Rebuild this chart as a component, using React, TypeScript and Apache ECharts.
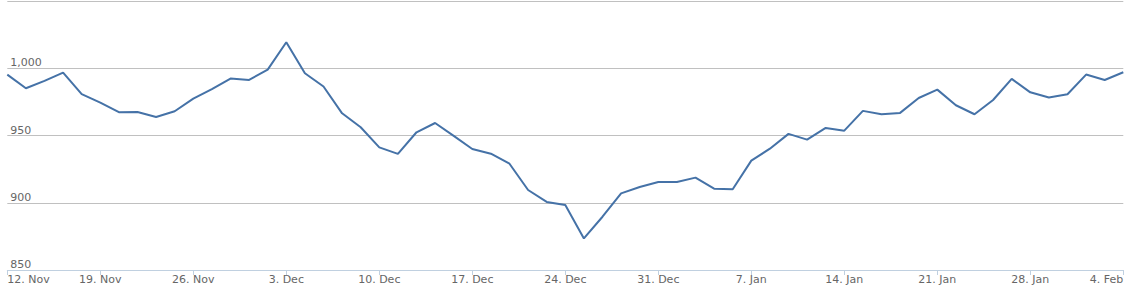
import React, { useEffect, useRef } from "react";
import * as echarts from "echarts";

const dates: string[] = [
  "2012-11-12", "2012-11-13", "2012-11-14", "2012-11-15", "2012-11-16",
  "2012-11-19", "2012-11-20", "2012-11-21", "2012-11-22", "2012-11-23",
  "2012-11-26", "2012-11-27", "2012-11-28", "2012-11-29", "2012-11-30",
  "2012-12-03", "2012-12-04", "2012-12-05", "2012-12-06", "2012-12-07",
  "2012-12-10", "2012-12-11", "2012-12-12", "2012-12-13", "2012-12-14",
  "2012-12-17", "2012-12-18", "2012-12-19", "2012-12-20", "2012-12-21",
  "2012-12-24", "2012-12-25", "2012-12-26", "2012-12-27", "2012-12-28",
  "2012-12-31", "2013-01-01", "2013-01-02", "2013-01-03", "2013-01-04",
  "2013-01-07", "2013-01-08", "2013-01-09", "2013-01-10", "2013-01-11",
  "2013-01-14", "2013-01-15", "2013-01-16", "2013-01-17", "2013-01-18",
  "2013-01-21", "2013-01-22", "2013-01-23", "2013-01-24", "2013-01-25",
  "2013-01-28", "2013-01-29", "2013-01-30", "2013-01-31", "2013-02-01",
  "2013-02-04",
];

const values: number[] = [
  995.3, 985.1, 990.6, 996.8, 980.7,
  974.5, 967.3, 967.5, 963.8, 968.0,
  977.4, 984.4, 992.3, 991.3, 999.0,
  1019.3, 996.3, 986.4, 966.5, 956.1,
  941.2, 936.3, 952.4, 959.3, 949.7,
  940.0, 936.5, 929.0, 909.5, 900.6,
  898.3, 873.5, 889.6, 907.0, 911.7,
  915.4, 915.4, 918.7, 910.5, 910.0,
  931.3, 940.2, 951.2, 946.9, 955.6,
  953.6, 968.3, 965.8, 966.8, 977.9,
  984.1, 972.5, 965.8, 976.4, 992.1,
  982.1, 978.2, 980.7, 995.3, 991.3,
  997.0,
];

const monthNames = ["Jan", "Feb", "Mar", "Apr", "May", "Jun", "Jul", "Aug", "Sep", "Oct", "Nov", "Dec"];
const yMin = 850;
const yMax = 1050;
const yStep = 50;

function fmtDate(s: string): string {
  const [, m, d] = s.split("-");
  return `${parseInt(d, 10)}. ${monthNames[parseInt(m, 10) - 1]}`;
}

function isMonday(s: string): boolean {
  const [y, m, d] = s.split("-").map((x) => parseInt(x, 10));
  return new Date(Date.UTC(y, m - 1, d)).getUTCDay() === 1;
}

export default function App() {
  const ref = useRef<HTMLDivElement>(null);
  useEffect(() => {
    if (!ref.current) return;
    const chart = echarts.init(ref.current, undefined, { renderer: "svg" });
    const font = "DejaVu Sans, Verdana, Arial, sans-serif";
    chart.setOption({
      animation: false,
      grid: { left: 7.3, right: 4.7, top: 1, bottom: 22, containLabel: false },
      xAxis: {
        type: "category",
        data: dates,
        boundaryGap: false,
        axisLine: { show: true, lineStyle: { color: "#C0D0E0", width: 1 } },
        axisTick: {
          show: true,
          length: 5,
          interval: (i: number, v: string) => isMonday(v),
          lineStyle: { color: "#C0D0E0" },
        },
        axisLabel: {
          interval: (i: number, v: string) => isMonday(v),
          formatter: (v: string) => fmtDate(v),
          color: "#666666",
          fontSize: 11,
          fontFamily: font,
          margin: 4,
          alignMinLabel: "left",
          alignMaxLabel: "right",
        },
        splitLine: { show: false },
      },
      yAxis: {
        type: "value",
        min: yMin,
        max: yMax,
        interval: yStep,
        axisLine: { show: false },
        axisTick: { show: false },
        axisLabel: {
          inside: true,
          margin: 3,
          verticalAlign: "bottom",
          showMaxLabel: false,
          color: "#666666",
          fontSize: 11,
          fontFamily: font,
          formatter: (v: number) => v.toLocaleString("en-US"),
        },
        splitLine: { show: true, lineStyle: { color: "#C0C0C0", width: 1 } },
      },
      series: [
        {
          type: "line",
          data: values,
          symbol: "none",
          lineStyle: { color: "#4572A7", width: 2 },
          itemStyle: { color: "#4572A7" },
        },
      ],
    });
    return () => chart.dispose();
  }, []);
  return (
    <div
      ref={ref}
      style={{ position: "fixed", left: 0, top: 0, width: 1128, height: 292, background: "#fff" }}
    />
  );
}
